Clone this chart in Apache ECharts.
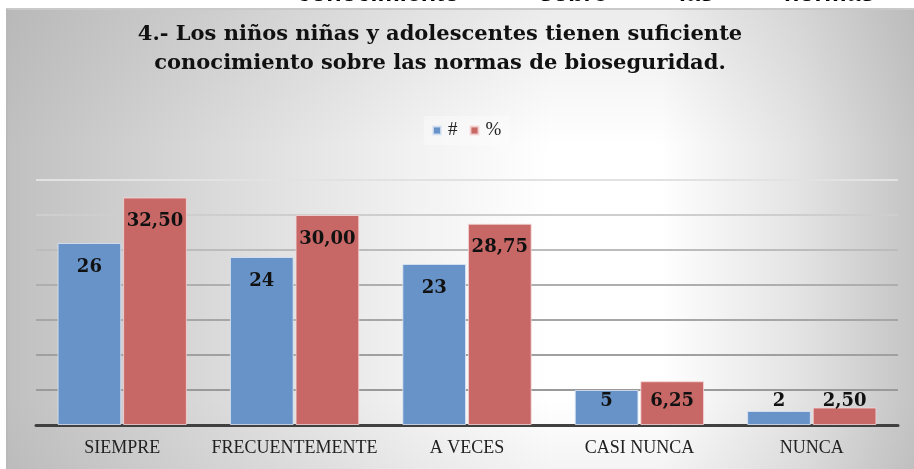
<!DOCTYPE html>
<html>
<head>
<meta charset="utf-8">
<script src="https://cdn.jsdelivr.net/npm/echarts@6/dist/echarts.min.js"></script>
<style>
html,body{margin:0;padding:0;background:#fff;}
#chart{width:914px;height:469px;}
</style>
</head>
<body>
<div id="chart"></div>
<script>
const categories = ['SIEMPRE', 'FRECUENTEMENTE', 'A VECES', 'CASI NUNCA', 'NUNCA'];
const countValues = [26, 24, 23, 5, 2];
const percentValues = [32.50, 30.00, 28.75, 6.25, 2.50];
const seriesNames = ['#', '%'];
const titleLines = ['4.- Los niños niñas y adolescentes tienen suficiente', 'conocimiento sobre las normas de bioseguridad.'];
const topStripWords = ['conocimiento', 'sobre', 'las', 'normas'];
const smallCategories = ['CASI NUNCA', 'NUNCA'];

const chart = echarts.init(document.getElementById('chart'), null, {renderer: 'canvas'});

const serifFont = '"DejaVu Serif", "Liberation Serif", serif';

function labelFor(cat) {
  if (smallCategories.indexOf(cat) >= 0) {
    return {position: 'insideBottom', distance: 15};
  }
  return {position: 'insideTop', distance: 15};
}

function buildData(values) {
  return values.map((v, i) => ({value: v, label: labelFor(categories[i])}));
}

const stripX = [297, 539, 679, 784];

const option = {
  backgroundColor: '#ffffff',
  animation: false,
  graphic: [
    {
      type: 'rect', z: -100, silent: true,
      shape: {x: 6, y: 9, width: 908, height: 460},
      style: {
        fill: {
          type: 'linear', x: 0, y: 0, x2: 1, y2: 0,
          colorStops: [
            {offset: 0, color: '#c0c0c0'},
            {offset: 0.25, color: '#dcdcdc'},
            {offset: 0.45, color: '#f2f2f2'},
            {offset: 0.6, color: '#ffffff'},
            {offset: 0.72, color: '#ffffff'},
            {offset: 0.87, color: '#e4e4e4'},
            {offset: 1, color: '#c4c4c4'}
          ]
        }
      }
    },
    {
      type: 'rect', z: -99, silent: true,
      shape: {x: 6, y: 9, width: 908, height: 460},
      style: {
        fill: {
          type: 'linear', x: 0, y: 0, x2: 0, y2: 1,
          colorStops: [
            {offset: 0, color: 'rgba(150,150,150,0.18)'},
            {offset: 0.3, color: 'rgba(150,150,150,0)'},
            {offset: 0.85, color: 'rgba(150,150,150,0)'},
            {offset: 1, color: 'rgba(150,150,150,0.10)'}
          ]
        }
      }
    },
    {
      type: 'rect', z: -98, silent: true,
      shape: {x: 6, y: 8, width: 908, height: 2},
      style: {fill: '#c9c9c9'}
    },
    {
      type: 'rect', z: -98, silent: true,
      shape: {x: 6, y: 9, width: 1.5, height: 460},
      style: {fill: '#b8b8b8'}
    }
  ].concat(topStripWords.map((w, i) => ({
    type: 'text', z: 10, silent: true,
    x: stripX[i], y: -6,
    style: {
      text: w,
      font: 'bold 25px "Liberation Sans", Arial, sans-serif',
      fill: '#000',
      textAlign: 'left',
      textVerticalAlign: 'middle'
    }
  }))),
  title: {
    text: titleLines.join('\n'),
    left: 435,
    top: 15,
    textAlign: 'center',
    textStyle: {
      fontFamily: serifFont,
      fontWeight: 'bold',
      fontSize: 21,
      lineHeight: 29,
      color: '#111'
    }
  },
  legend: {
    data: seriesNames,
    left: 424,
    top: 116,
    icon: 'rect',
    itemWidth: 8,
    itemHeight: 8,
    itemGap: 12,
    padding: [5, 8, 5, 8],
    backgroundColor: 'rgba(255,255,255,0.35)',
    textStyle: {
      fontFamily: '"Liberation Serif", serif',
      fontSize: 19,
      color: '#222',
      padding: [0, 0, 0, 2]
    }
  },
  grid: {
    left: 36,
    right: 16,
    top: 180,
    bottom: 44,
    containLabel: false
  },
  xAxis: {
    type: 'category',
    data: categories,
    axisTick: {show: false},
    axisLine: {lineStyle: {color: '#404040', width: 3}},
    axisLabel: {
      fontFamily: '"Liberation Serif", serif',
      fontSize: 18,
      color: '#222',
      margin: 14,
      interval: 0
    }
  },
  yAxis: {
    type: 'value',
    min: 0,
    max: 35,
    interval: 5,
    axisLabel: {show: false},
    axisLine: {show: false},
    axisTick: {show: false},
    splitLine: {
      lineStyle: {
        width: 2,
        color: ['#9a9a9a', '#9a9a9a', '#a0a0a0', '#a6a6a6', '#aeaeae', '#bcbcbc', '#cecece', '#e2e2e2']
      }
    }
  },
  series: [
    {
      name: seriesNames[0],
      type: 'bar',
      data: buildData(countValues),
      barGap: '3%',
      barCategoryGap: '25%',
      itemStyle: {color: '#6893c8', borderColor: 'rgba(220,230,245,0.8)', borderWidth: 1},
      label: {
        show: true,
        fontFamily: serifFont,
        fontWeight: 'bold',
        fontSize: 18,
        color: '#111',
        formatter: p => String(p.value)
      }
    },
    {
      name: seriesNames[1],
      type: 'bar',
      data: buildData(percentValues),
      barGap: '3%',
      barCategoryGap: '25%',
      itemStyle: {color: '#c86866', borderColor: 'rgba(245,215,215,0.8)', borderWidth: 1},
      label: {
        show: true,
        fontFamily: serifFont,
        fontWeight: 'bold',
        fontSize: 18,
        color: '#111',
        formatter: p => p.value.toFixed(2).replace('.', ',')
      }
    }
  ]
};

chart.setOption(option);
</script>
</body>
</html>
